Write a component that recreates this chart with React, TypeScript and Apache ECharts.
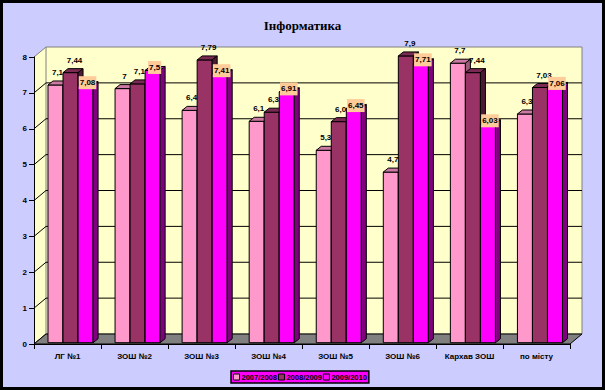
import React, { useEffect, useRef } from "react";
import * as echarts from "echarts";

const categories = ["ЛГ №1", "ЗОШ №2", "ЗОШ №3", "ЗОШ №4", "ЗОШ №5", "ЗОШ №6", "Кархав ЗОШ", "по місту"];
const seriesNames = ["2007/2008", "2008/2009", "2009/2010"];
const values2007 = [7.1, 7, 6.4, 6.1, 5.3, 4.7, 7.7, 6.3];
const values2008 = [7.44, 7.13, 7.79, 6.35, 6.09, 7.9, 7.44, 7.03];
const values2009 = [7.08, 7.5, 7.41, 6.91, 6.45, 7.71, 6.03, 7.06];
const yMin = 0;
const yMax = 8;
const yInterval = 1;

const frontColors = ["#FF99CC", "#993366", "#FF00FF"];
const topColors = ["#CC7AA3", "#7A2952", "#CC00CC"];
const sideColors = ["#995C7A", "#4D1A33", "#800080"];
const labelDx = [2, 4, 2];
const labelDy = [-12.5, -12.5, -3];

const WALL_DX = 12;
const WALL_DY = 10;
const BAR_DX = 5;
const BAR_DY = 4;

const fmt = (v: number) => String(v).replace(".", ",");

export default function App() {
  const ref = useRef<HTMLDivElement>(null);

  useEffect(() => {
    if (!ref.current) return;
    const chart = echarts.init(ref.current, undefined, { renderer: "svg" });
    const allValues = [values2007, values2008, values2009];

    const wallSeries: any = {
      type: "custom",
      xAxisIndex: 0,
      yAxisIndex: 0,
      z: 1,
      silent: true,
      data: [[0, 0]],
      renderItem: (params: any, api: any) => {
        const cs = params.coordSys;
        const x0 = cs.x, y0 = cs.y, w = cs.width, h = cs.height;
        const children: any[] = [];
        children.push({
          type: "polygon",
          shape: { points: [[x0, y0], [x0 + WALL_DX, y0 - WALL_DY], [x0 + WALL_DX, y0 + h - WALL_DY], [x0, y0 + h]] },
          style: { fill: "#FFFFCC", stroke: null },
        });
        children.push({
          type: "rect",
          shape: { x: x0 + WALL_DX, y: y0 - WALL_DY, width: w, height: h },
          style: { fill: "#FFFFCC", stroke: "#808080", lineWidth: 1 },
        });
        for (let v = yMin; v <= yMax; v += yInterval) {
          const y = api.coord([0, v])[1];
          if (v > yMin && v < yMax) {
            children.push({
              type: "line",
              shape: { x1: x0 + WALL_DX, y1: y - WALL_DY, x2: x0 + WALL_DX + w, y2: y - WALL_DY },
              style: { stroke: "#000", lineWidth: 1 },
            });
          }
          children.push({
            type: "line",
            shape: { x1: x0, y1: y, x2: x0 + WALL_DX, y2: y - WALL_DY },
            style: { stroke: v === yMax ? "#808080" : "#000", lineWidth: 1 },
          });
        }
        children.push({
          type: "polygon",
          shape: {
            points: [[x0, y0 + h], [x0 + WALL_DX, y0 + h - WALL_DY], [x0 + w + WALL_DX, y0 + h - WALL_DY], [x0 + w, y0 + h]],
          },
          style: { fill: "#808080", stroke: "#000", lineWidth: 1 },
        });
        return { type: "group", children };
      },
    };

    const barSeries = allValues.map((vals, s) => ({
      type: "custom",
      name: seriesNames[s],
      xAxisIndex: 1,
      yAxisIndex: 1,
      z: 3,
      itemStyle: { color: frontColors[s] },
      data: vals.map((v, i) => [i, v]),
      encode: { x: 0, y: 1 },
      renderItem: (params: any, api: any) => {
        const idx = api.value(0);
        const v = api.value(1);
        const top = api.coord([idx, v]);
        const base = api.coord([idx, 0]);
        const band = api.size([1, 0])[0];
        const bw = band * 0.224;
        const x = top[0] - 1.5 * bw + s * bw;
        const ty = top[1];
        const by = base[1];
        const children: any[] = [
          {
            type: "rect",
            shape: { x, y: ty, width: bw, height: by - ty },
            style: { fill: frontColors[s], stroke: "#000", lineWidth: 1 },
          },
          {
            type: "polygon",
            shape: { points: [[x, ty], [x + BAR_DX, ty - BAR_DY], [x + bw + BAR_DX, ty - BAR_DY], [x + bw, ty]] },
            style: { fill: topColors[s], stroke: "#000", lineWidth: 1 },
          },
          {
            type: "polygon",
            shape: { points: [[x + bw, ty], [x + bw + BAR_DX, ty - BAR_DY], [x + bw + BAR_DX, by - BAR_DY], [x + bw, by]] },
            style: { fill: sideColors[s], stroke: "#000", lineWidth: 1 },
          },
        ];
        const labelStyle: any = {
          text: fmt(v),
          x: x + bw / 2 + labelDx[s],
          y: ty + labelDy[s],
          align: "center",
          verticalAlign: "middle",
          font: "bold 8px Arial, 'Liberation Sans', sans-serif",
          fill: "#000",
        };
        if (s === 2) {
          labelStyle.backgroundColor = "#FFCC99";
          labelStyle.padding = [3, 1, 2, 1];
        }
        children.push({ type: "text", style: labelStyle });
        return { type: "group", children };
      },
    }));

    const axisFont = { fontSize: 8, fontWeight: "bold", fontFamily: "Arial, 'Liberation Sans', sans-serif", color: "#000" };

    chart.setOption({
      animation: false,
      backgroundColor: "transparent",
      title: {
        text: "Інформатика",
        left: "center",
        top: 14,
        textStyle: { fontSize: 13, fontWeight: "bold", fontFamily: "'Times New Roman', 'Liberation Serif', serif", color: "#000" },
      },
      legend: {
        data: seriesNames,
        left: 231,
        top: 371,
        orient: "horizontal",
        padding: [2, 2, 2, 2],
        itemWidth: 6,
        itemHeight: 6,
        itemGap: 1,
        icon: "rect",
        backgroundColor: "#FF00FF",
        borderColor: "#000",
        borderWidth: 1.5,
        borderRadius: 0,
        itemStyle: { borderColor: "#000", borderWidth: 1 },
        textStyle: { fontSize: 7.5, fontWeight: "bold", fontFamily: "Arial, 'Liberation Sans', sans-serif", color: "#000", padding: [0, 0, 0, -3] },
        selectedMode: false,
      },
      grid: [
        { left: 34, right: 35, top: 57, bottom: 46 },
        { left: 37, right: 31.5, top: 52.3, bottom: 47.3 },
      ],
      xAxis: [
        {
          type: "category",
          gridIndex: 0,
          data: categories,
          boundaryGap: true,
          z: 5,
          axisLine: { lineStyle: { color: "#000", width: 1 } },
          axisTick: { show: true, length: 5, lineStyle: { color: "#000" } },
          axisLabel: { ...axisFont, margin: 8, interval: 0 },
          splitLine: { show: false },
        },
        {
          type: "category",
          gridIndex: 1,
          data: categories,
          show: false,
        },
      ],
      yAxis: [
        {
          type: "value",
          gridIndex: 0,
          min: yMin,
          max: yMax,
          interval: yInterval,
          z: 5,
          axisLine: { show: true, lineStyle: { color: "#000", width: 1 } },
          axisTick: { show: true, length: 5, lineStyle: { color: "#000" } },
          axisLabel: { ...axisFont, margin: 7 },
          splitLine: { show: false },
        },
        {
          type: "value",
          gridIndex: 1,
          min: yMin,
          max: yMax,
          interval: yInterval,
          show: false,
          splitLine: { show: false },
        },
      ],
      series: [wallSeries, ...barSeries],
    });

    return () => chart.dispose();
  }, []);

  return (
    <div style={{ position: "fixed", left: 0, top: 0, width: 605, height: 390, background: "#000" }}>
      <div style={{ position: "absolute", left: 3, top: 3, width: 599, height: 384, background: "#CCCCFF" }} />
      <div ref={ref} style={{ position: "absolute", left: 0, top: 0, width: 605, height: 390 }} />
    </div>
  );
}
